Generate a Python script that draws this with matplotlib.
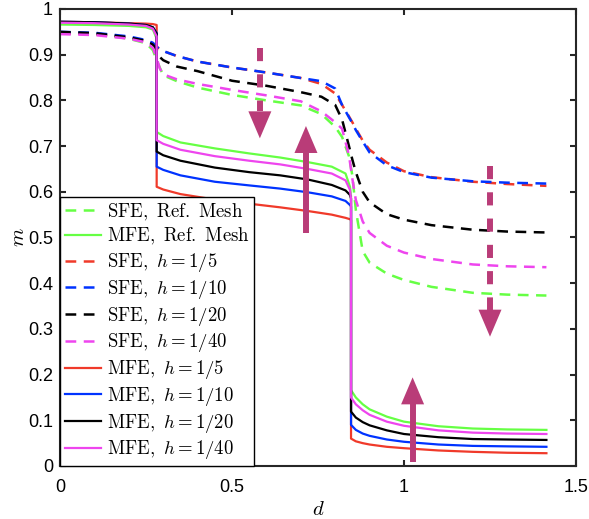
import matplotlib
matplotlib.use("Agg")
import matplotlib.pyplot as plt
from matplotlib.patches import Polygon

plt.rcParams["mathtext.fontset"] = "cm"
plt.rcParams["font.family"] = ["Liberation Sans", "DejaVu Sans"]

# ---- MFE (solid) curves: vertical jumps at d = 0.281 and d = 0.846 ----
d_mfe = [0.0, 0.1, 0.2, 0.25, 0.27, 0.281, 0.281, 0.3, 0.35, 0.45, 0.55, 0.64,
         0.72, 0.79, 0.83, 0.843, 0.846, 0.846, 0.86, 0.88, 0.9, 0.95, 1.0,
         1.1, 1.2, 1.3, 1.414]
mfe_ref = [0.966, 0.965, 0.963, 0.960, 0.955, 0.935, 0.731, 0.722, 0.708, 0.695,
           0.684, 0.675, 0.665, 0.655, 0.640, 0.611, 0.590, 0.166, 0.150, 0.135,
           0.124, 0.108, 0.097, 0.087, 0.082, 0.080, 0.079]
mfe_h5 = [0.972, 0.971, 0.969, 0.968, 0.967, 0.965, 0.611, 0.605, 0.595, 0.583,
          0.574, 0.566, 0.558, 0.550, 0.543, 0.540, 0.538, 0.060, 0.054, 0.050,
          0.047, 0.042, 0.039, 0.034, 0.031, 0.029, 0.028]
mfe_h10 = [0.972, 0.971, 0.968, 0.965, 0.960, 0.948, 0.655, 0.648, 0.636, 0.622,
           0.614, 0.607, 0.599, 0.590, 0.580, 0.571, 0.568, 0.090, 0.079, 0.071,
           0.066, 0.058, 0.053, 0.047, 0.044, 0.043, 0.042]
mfe_h20 = [0.972, 0.971, 0.968, 0.965, 0.960, 0.946, 0.688, 0.680, 0.668, 0.653,
           0.643, 0.636, 0.627, 0.615, 0.603, 0.593, 0.585, 0.119, 0.106, 0.096,
           0.089, 0.078, 0.070, 0.063, 0.059, 0.058, 0.057]
mfe_h40 = [0.970, 0.969, 0.966, 0.963, 0.957, 0.940, 0.713, 0.705, 0.692, 0.678,
           0.668, 0.660, 0.650, 0.640, 0.625, 0.604, 0.585, 0.150, 0.135, 0.122,
           0.112, 0.097, 0.088, 0.078, 0.073, 0.071, 0.070]

# ---- SFE (dashed) curves ----
d_sfe = [0.0, 0.1, 0.2, 0.25, 0.27, 0.28, 0.29, 0.3, 0.34, 0.4, 0.5, 0.6, 0.7,
         0.76, 0.8, 0.82, 0.84, 0.85, 0.86, 0.88, 0.9, 0.95, 1.0, 1.08, 1.2,
         1.3, 1.414]
sfe_ref = [0.948, 0.945, 0.935, 0.925, 0.910, 0.890, 0.872, 0.855, 0.842, 0.828,
           0.812, 0.800, 0.789, 0.770, 0.742, 0.720, 0.678, 0.635, 0.560, 0.470,
           0.445, 0.421, 0.407, 0.392, 0.379, 0.375, 0.373]
sfe_h5 = [0.947, 0.945, 0.938, 0.930, 0.925, 0.918, 0.912, 0.908, 0.897, 0.885,
          0.872, 0.861, 0.849, 0.836, 0.815, 0.790, 0.765, 0.752, 0.738, 0.712,
          0.692, 0.664, 0.645, 0.632, 0.622, 0.617, 0.613]
sfe_h10 = [0.950, 0.948, 0.940, 0.932, 0.926, 0.918, 0.912, 0.908, 0.897, 0.885,
           0.872, 0.861, 0.849, 0.842, 0.826, 0.790, 0.763, 0.750, 0.735, 0.710,
           0.686, 0.658, 0.643, 0.631, 0.623, 0.620, 0.618]
sfe_h20 = [0.950, 0.947, 0.938, 0.930, 0.922, 0.912, 0.895, 0.888, 0.874, 0.864,
           0.843, 0.832, 0.818, 0.808, 0.790, 0.758, 0.700, 0.670, 0.643, 0.600,
           0.577, 0.551, 0.539, 0.527, 0.517, 0.513, 0.511]
sfe_h40 = [0.945, 0.943, 0.935, 0.927, 0.915, 0.895, 0.870, 0.857, 0.846, 0.836,
           0.823, 0.811, 0.798, 0.776, 0.752, 0.738, 0.680, 0.628, 0.582, 0.535,
           0.510, 0.482, 0.467, 0.453, 0.441, 0.437, 0.435]

# ---- trend arrows: (x, tail y, tip y, dashed?) ----
arrow_x = [0.581, 0.715, 1.25, 1.025]
arrow_tail = [0.914, 0.509, 0.656, 0.0095]
arrow_tip = [0.717, 0.744, 0.283, 0.194]
arrow_dashed = [True, False, True, False]

GREEN = "#66FF44"
RED = "#F03A2A"
BLUE = "#0033FF"
BLACK = "#000000"
MAGENTA = "#EE45EE"
ARROW = "#B93C78"

fig = plt.figure(figsize=(5.89, 5.19), dpi=100)
ax = fig.add_axes([60 / 589, 53 / 519, 516 / 589, 457 / 519])

dash = (4.3, 3.0)
lw_dash = 1.8
lw_solid = 1.6
series = [
    (d_sfe, sfe_ref, GREEN, True, r"$\mathrm{SFE,\ Ref.\ Mesh}$"),
    (d_mfe, mfe_ref, GREEN, False, r"$\mathrm{MFE,\ Ref.\ Mesh}$"),
    (d_sfe, sfe_h5, RED, True, r"$\mathrm{SFE},\ h=1/5$"),
    (d_sfe, sfe_h10, BLUE, True, r"$\mathrm{SFE},\ h=1/10$"),
    (d_sfe, sfe_h20, BLACK, True, r"$\mathrm{SFE},\ h=1/20$"),
    (d_sfe, sfe_h40, MAGENTA, True, r"$\mathrm{SFE},\ h=1/40$"),
    (d_mfe, mfe_h5, RED, False, r"$\mathrm{MFE},\ h=1/5$"),
    (d_mfe, mfe_h10, BLUE, False, r"$\mathrm{MFE},\ h=1/10$"),
    (d_mfe, mfe_h20, BLACK, False, r"$\mathrm{MFE},\ h=1/20$"),
    (d_mfe, mfe_h40, MAGENTA, False, r"$\mathrm{MFE},\ h=1/40$"),
]
for xs, ys, c, dashed, lab in series:
    if dashed:
        ax.plot(xs, ys, color=c, lw=lw_dash, dashes=dash, label=lab)
    else:
        ax.plot(xs, ys, color=c, lw=lw_solid, label=lab)

ax.set_xlim(0, 1.5)
ax.set_ylim(0, 1)
ax.set_xticks([0, 0.5, 1, 1.5])
ax.set_xticklabels(["0", "0.5", "1", "1.5"])
ax.set_yticks([i / 10 for i in range(11)])
ax.set_yticklabels(["0", "0.1", "0.2", "0.3", "0.4", "0.5", "0.6", "0.7", "0.8", "0.9", "1"])

# arrows: shaft as a thick line, head as a filled triangle sized in pixels
head_w, head_l = 23.0, 27.0
for x, y0, y1, dashed in zip(arrow_x, arrow_tail, arrow_tip, arrow_dashed):
    tip = ax.transData.transform((x, y1))
    sgn = 1.0 if y1 > y0 else -1.0
    base_px = (tip[0], tip[1] - sgn * head_l)
    base = ax.transData.inverted().transform(base_px)
    if dashed:
        ax.plot([x, x], [y0, base[1]], color=ARROW, lw=4.3, dashes=(2.2, 2.2),
                solid_capstyle="butt", dash_capstyle="butt")
    else:
        ax.plot([x, x], [y0, base[1]], color=ARROW, lw=4.3, solid_capstyle="butt")
    pts_px = [(tip[0], tip[1]),
              (tip[0] - head_w / 2, base_px[1]),
              (tip[0] + head_w / 2, base_px[1])]
    pts = ax.transData.inverted().transform(pts_px)
    ax.add_patch(Polygon(pts, closed=True, color=ARROW, lw=0))

axcol = "#262626"
for s in ax.spines.values():
    s.set_linewidth(1.5)
    s.set_color(axcol)
ax.tick_params(direction="in", length=4, width=1.5, top=True, right=True,
               labelsize=13, colors=axcol, labelcolor="black")
ax.tick_params(axis="x", pad=9)
ax.tick_params(axis="y", pad=5)

ax.set_xlabel(r"$d$", fontsize=15, labelpad=3)
ax.set_ylabel(r"$m$", fontsize=15, labelpad=0)

leg = ax.legend(loc="lower left", bbox_to_anchor=(0, 0), borderaxespad=0,
                fontsize=13.5, frameon=True, fancybox=False, framealpha=1,
                edgecolor="black", handlelength=1.95, handletextpad=0.3,
                labelspacing=0.2, borderpad=0.25)
leg.get_frame().set_linewidth(1.0)

fig.savefig("out.png", dpi=100)
